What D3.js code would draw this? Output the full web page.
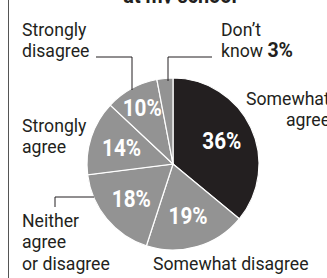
<!DOCTYPE html>
<html>
<head>
<meta charset="utf-8">
<script src="https://cdn.jsdelivr.net/npm/d3@7"></script>
<style>
  body { margin: 0; background: #fff; }
  svg { display: block; }
  text { font-family: "Roboto", "Liberation Sans", sans-serif; fill: #231f20; }
</style>
</head>
<body>
<svg></svg>
<script>
// answers, clockwise from 12 o'clock
var categories = ["Somewhat agree", "Somewhat disagree", "Neither agree or disagree", "Strongly agree", "Strongly disagree", "Don't know"];
var values = [36, 19, 18, 14, 10, 3];
var title = "at my school";

var width = 327;
var height = 278;
var cx = 173, cy = 164, radius = 86;
var squeeze = 0.93; // fake a condensed face

var svg = d3.select("svg")
      .attr("width", width)
      .attr("height", height);

// the title is cut by the top edge in the source graphic
svg.append("clipPath")
      .attr("id", "topcut")
      .append("rect")
            .attr("x", 0).attr("y", -40)
            .attr("width", width).attr("height", 43.5);

// left frame line
svg.append("line")
      .attr("x1", 8.5).attr("x2", 8.5)
      .attr("y1", 0).attr("y2", height)
      .attr("stroke", "#555").attr("stroke-width", 1);

svg.append("g")
      .attr("clip-path", "url(#topcut)")
      .append("text")
            .attr("transform", "translate(180,3) scale(0.9,1)")
            .attr("text-anchor", "middle")
            .style("font-weight", "bold")
            .style("font-size", "22px")
            .text(title);

var data = categories.map((c, i) => ({ name: c, value: values[i] }));

var pie = d3.pie()
      .value(d => d.value)
      .sort(null);

var arcs = pie(data);

var arc = d3.arc()
      .innerRadius(0)
      .outerRadius(radius);

var g = svg.append("g")
      .attr("transform", "translate(" + cx + "," + cy + ")");

g.selectAll("path")
      .data(arcs)
      .enter()
      .append("path")
            .attr("d", arc)
            .attr("fill", (d, i) => i === 0 ? "#231f20" : "#939393")
            .attr("stroke", "#fff")
            .attr("stroke-width", 1.2);

// percent labels inside the slices (not for the tiny one)
var labelArc = function(d) {
      var r = (d.endAngle - d.startAngle) < 0.7 ? 64 : 54;
      return d3.arc().innerRadius(r).outerRadius(r).centroid(d);
};

g.selectAll("text.pct")
      .data(arcs.filter(d => d.data.value >= 5))
      .enter()
      .append("text")
            .attr("class", "pct")
            .attr("transform", d => "translate(" + labelArc(d) + ") scale(0.9,1)")
            .attr("dy", "0.36em")
            .attr("text-anchor", "middle")
            .style("fill", "#fff")
            .style("font-weight", "bold")
            .style("font-size", "23px")
            .text(d => d.data.value + "%");

// category labels; dx is the indent of each line in screen px
var labels = [
      { lines: ["Somewhat", "agree"], dx: [0, 40], x: 246, y: 105 },
      { lines: ["Somewhat disagree"], x: 153, y: 270 },
      { lines: ["Neither", "agree", "or disagree"], x: 22, y: 227 },
      { lines: ["Strongly", "agree"], x: 22, y: 132 },
      { lines: ["Strongly", "disagree"], x: 22, y: 36 },
      { lines: ["Don\u2019t", "know "], x: 221, y: 36, value: values[5] }
];

labels.forEach(function(l) {
      var t = svg.append("text")
            .attr("transform", "translate(" + l.x + "," + l.y + ") scale(" + squeeze + ",1)")
            .style("font-size", "19px");
      l.lines.forEach(function(line, i) {
            t.append("tspan")
                  .attr("x", l.dx ? l.dx[i] / squeeze : 0)
                  .attr("dy", i === 0 ? 0 : 21.5)
                  .text(line);
      });
      if (l.value !== undefined) {
            t.append("tspan")
                  .style("font-weight", "bold")
                  .style("font-size", "21px")
                  .text(l.value + "%");
      }
});

// leader lines
var leaders = [
      [[96, 57], [132, 57], [132, 90]],
      [[212, 57], [168, 57], [168, 81]],
      [[55, 207], [55, 197], [94, 197]]
];

svg.selectAll("path.leader")
      .data(leaders)
      .enter()
      .append("path")
            .attr("class", "leader")
            .attr("d", d3.line())
            .attr("fill", "none")
            .attr("stroke", "#231f20")
            .attr("stroke-width", 1);
</script>
</body>
</html>
